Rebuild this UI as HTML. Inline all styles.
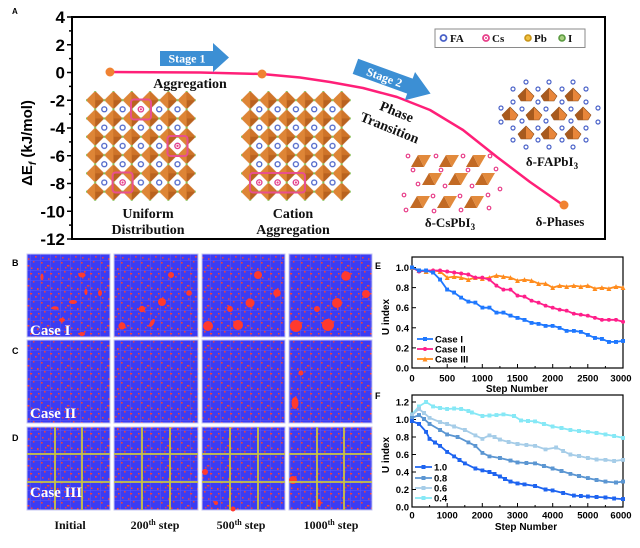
<!DOCTYPE html>
<html><head><meta charset="utf-8"><style>
html,body{margin:0;padding:0;background:#fff;}
svg{display:block;}
.ser{font-family:"Liberation Serif",serif;font-weight:bold;}
.san{font-family:"Liberation Sans",sans-serif;font-weight:bold;}
</style></head><body>
<svg width="640" height="548" viewBox="0 0 640 548" xmlns="http://www.w3.org/2000/svg">
<defs>
<pattern id="perov1" x="86" y="91" width="18.3" height="18.3" patternUnits="userSpaceOnUse">
 <polygon points="9.15,0 18.3,9.15 9.15,18.3 0,9.15" fill="#b9621f"/>
 <polygon points="9.15,0 9.15,18.3 0,9.15" fill="#de8536"/>
 <polygon points="9.15,0 18.3,9.15 9.15,9.15" fill="#cf7429"/>
 <circle cx="9.15" cy="0" r="1.1" fill="#86c45a"/><circle cx="9.15" cy="18.3" r="1.1" fill="#86c45a"/>
 <circle cx="0" cy="9.15" r="1.1" fill="#86c45a"/><circle cx="18.3" cy="9.15" r="1.1" fill="#86c45a"/>
</pattern>
<pattern id="perov2" x="241" y="91" width="18.3" height="18.3" patternUnits="userSpaceOnUse">
 <polygon points="9.15,0 18.3,9.15 9.15,18.3 0,9.15" fill="#b9621f"/>
 <polygon points="9.15,0 9.15,18.3 0,9.15" fill="#de8536"/>
 <polygon points="9.15,0 18.3,9.15 9.15,9.15" fill="#cf7429"/>
 <circle cx="9.15" cy="0" r="1.1" fill="#86c45a"/><circle cx="9.15" cy="18.3" r="1.1" fill="#86c45a"/>
 <circle cx="0" cy="9.15" r="1.1" fill="#86c45a"/><circle cx="18.3" cy="9.15" r="1.1" fill="#86c45a"/>
</pattern>
<pattern id="fa1" x="95.15" y="100.15" width="18.3" height="18.3" patternUnits="userSpaceOnUse">
 <circle cx="9.15" cy="9.15" r="2.5" fill="#fff" stroke="#4a62c8" stroke-width="1.3"/>
</pattern>
<pattern id="fa2" x="250.15" y="100.15" width="18.3" height="18.3" patternUnits="userSpaceOnUse">
 <circle cx="9.15" cy="9.15" r="2.5" fill="#fff" stroke="#4a62c8" stroke-width="1.3"/>
</pattern>
<pattern id="sp" width="20" height="20" patternUnits="userSpaceOnUse">
 <rect width="20" height="20" fill="#3b3cf3"/>
 <rect x="0" y="0" width="20" height="0.5" fill="#5c5cf4"/>
 <rect x="0" y="10" width="20" height="0.5" fill="#5c5cf4"/>
 <rect x="0" y="0" width="0.5" height="20" fill="#5c5cf4"/>
 <rect x="10" y="0" width="0.5" height="20" fill="#5c5cf4"/>
 <rect x="1" y="2" width="1.6" height="1.6" fill="#f0403a"/>
 <rect x="7" y="5" width="2.4" height="1.5" fill="#f0403a"/>
 <rect x="13" y="1" width="1.5" height="1.5" fill="#f0403a"/>
 <rect x="17" y="8" width="1.6" height="2.2" fill="#f0403a"/>
 <rect x="4" y="11" width="1.6" height="1.6" fill="#f0403a"/>
 <rect x="10" y="13" width="2.2" height="1.5" fill="#f0403a"/>
 <rect x="15" y="16" width="1.6" height="1.6" fill="#f0403a"/>
 <rect x="2" y="17" width="1.5" height="1.5" fill="#f0403a"/>
 <rect x="8" y="18.3" width="1.5" height="1.5" fill="#f0403a"/>
 <rect x="18" y="13" width="1.5" height="1.5" fill="#f0403a"/>
 <rect x="11" y="7.5" width="1.5" height="1.5" fill="#f0403a"/>
 <rect x="5" y="7" width="1.4" height="1.4" fill="#f0403a"/>
</pattern>
<marker id="mB" markerWidth="4" markerHeight="4" refX="2" refY="2" markerUnits="userSpaceOnUse"><rect width="4" height="4" fill="#1f78ff"/></marker>
<marker id="mP" markerWidth="4" markerHeight="4" refX="2" refY="2" markerUnits="userSpaceOnUse"><circle cx="2" cy="2" r="2" fill="#ff1f8a"/></marker>
<marker id="mO" markerWidth="5" markerHeight="5" refX="2.5" refY="2.5" markerUnits="userSpaceOnUse"><polygon points="2.5,0 5,5 0,5" fill="#ff8c1e"/></marker>
<marker id="m1" markerWidth="4" markerHeight="4" refX="2" refY="2" markerUnits="userSpaceOnUse"><rect width="4" height="4" fill="#1e64f0"/></marker>
<marker id="m2" markerWidth="4" markerHeight="4" refX="2" refY="2" markerUnits="userSpaceOnUse"><rect width="4" height="4" fill="#5b96d2"/></marker>
<marker id="m3" markerWidth="4" markerHeight="4" refX="2" refY="2" markerUnits="userSpaceOnUse"><rect width="4" height="4" fill="#a6cde8"/></marker>
<marker id="m4" markerWidth="4" markerHeight="4" refX="2" refY="2" markerUnits="userSpaceOnUse"><rect width="4" height="4" fill="#86e8f6"/></marker>
</defs>
<rect width="640" height="548" fill="#fff"/>

<!-- ============ PANEL A ============ -->
<text x="12" y="14" class="san" font-size="8">A</text>
<rect x="72" y="17" width="533" height="222" fill="none" stroke="#000" stroke-width="2"/>
<g stroke="#000" stroke-width="1.5">
 <line x1="67" y1="17" x2="72" y2="17"/><line x1="67" y1="44.75" x2="72" y2="44.75"/><line x1="67" y1="72.5" x2="72" y2="72.5"/>
 <line x1="67" y1="100.25" x2="72" y2="100.25"/><line x1="67" y1="128" x2="72" y2="128"/><line x1="67" y1="155.75" x2="72" y2="155.75"/>
 <line x1="67" y1="183.5" x2="72" y2="183.5"/><line x1="67" y1="211.25" x2="72" y2="211.25"/><line x1="67" y1="239" x2="72" y2="239"/>
 <line x1="69" y1="30.9" x2="72" y2="30.9"/><line x1="69" y1="58.6" x2="72" y2="58.6"/><line x1="69" y1="86.4" x2="72" y2="86.4"/>
 <line x1="69" y1="114.1" x2="72" y2="114.1"/><line x1="69" y1="141.9" x2="72" y2="141.9"/><line x1="69" y1="169.6" x2="72" y2="169.6"/>
 <line x1="69" y1="197.4" x2="72" y2="197.4"/><line x1="69" y1="225.1" x2="72" y2="225.1"/>
</g>
<g class="san" font-size="17" text-anchor="end">
 <text x="65" y="23">4</text><text x="65" y="50.75">2</text><text x="65" y="78.5">0</text>
 <text x="65" y="106.25">-2</text><text x="65" y="134">-4</text><text x="65" y="161.75">-6</text>
 <text x="65" y="189.5">-8</text><text x="65" y="217.25">-10</text><text x="65" y="245">-12</text>
</g>
<text transform="translate(32,143) rotate(-90)" class="san" font-size="15" text-anchor="middle">ΔE<tspan font-size="10" dy="4" font-style="italic">f</tspan><tspan dy="-4"> (kJ/mol)</tspan></text>

<!-- lattices -->
<rect x="86" y="91" width="109.8" height="109.8" fill="url(#perov1)"/>
<rect x="95.15" y="100.15" width="91.5" height="91.5" fill="url(#fa1)"/>
<rect x="241" y="91" width="109.8" height="109.8" fill="url(#perov2)"/>
<rect x="250.15" y="100.15" width="91.5" height="91.5" fill="url(#fa2)"/>
<g fill="#fff" stroke="#e8408a" stroke-width="1.3">
 <circle cx="140.9" cy="109.3" r="2.6"/><circle cx="177.5" cy="145.9" r="2.6"/><circle cx="122.6" cy="182.5" r="2.6"/>
 <circle cx="259.3" cy="182.5" r="2.6"/><circle cx="277.6" cy="182.5" r="2.6"/><circle cx="295.9" cy="182.5" r="2.6"/>
</g>
<g fill="#e8408a">
 <circle cx="140.9" cy="109.3" r="1.1"/><circle cx="177.5" cy="145.9" r="1.1"/><circle cx="122.6" cy="182.5" r="1.1"/>
 <circle cx="259.3" cy="182.5" r="1.1"/><circle cx="277.6" cy="182.5" r="1.1"/><circle cx="295.9" cy="182.5" r="1.1"/>
</g>
<g fill="none" stroke="#e8508e" stroke-width="2">
 <rect x="131" y="99.5" width="20" height="20" rx="3"/>
 <rect x="167.5" y="136" width="20" height="20" rx="3"/>
 <rect x="112.6" y="172.5" width="20" height="20" rx="3"/>
 <rect x="250" y="173" width="55" height="19.5" rx="3"/>
</g>

<!-- curve -->
<polyline points="110,72 200,72.5 262,74 300,77.5 330,82 363,88 397,97 430,110 463,130 497,157 530,182 563,205" fill="none" stroke="#ff1f78" stroke-width="2.5" stroke-linejoin="round"/>
<circle cx="110" cy="72" r="4.5" fill="#f08232"/>
<circle cx="262" cy="74" r="4.5" fill="#f08232"/>
<circle cx="564" cy="205" r="4.5" fill="#f08232"/>

<!-- arrows -->
<polygon points="160,51 213,51 213,43 229,57.5 213,72 213,66 160,66" fill="#3c8fd4"/>
<text x="187" y="62.5" class="ser" font-size="12" fill="#fff" text-anchor="middle">Stage 1</text>
<g transform="rotate(20 393 80)">
 <polygon points="353,72 411,72 411,65 433,80 411,95 411,88 353,88" fill="#3c8fd4"/>
 <text x="384" y="84.5" class="ser" font-size="12" fill="#fff" text-anchor="middle">Stage 2</text>
</g>

<!-- texts -->
<g class="ser" font-size="14" text-anchor="middle" fill="#111">
 <text x="190" y="88">Aggregation</text>
 <text x="148" y="218">Uniform</text>
 <text x="148" y="234">Distribution</text>
 <text x="293" y="218">Cation</text>
 <text x="293" y="234">Aggregation</text>
 <text transform="translate(395,116) rotate(22)">Phase</text>
 <text transform="translate(388,132) rotate(22)">Transition</text>
</g>
<g class="ser" font-size="13" text-anchor="middle" fill="#111">
 <text x="552" y="166">δ-FAPbI<tspan font-size="9" dy="3">3</tspan></text>
 <text x="450" y="227">δ-CsPbI<tspan font-size="9" dy="3">3</tspan></text>
 <text x="560" y="226">δ-Phases</text>
</g>

<!-- delta-CsPbI3 -->
<g>
 <g fill="#c26a24">
  <polygon points="411,167 418,155 424,167"/><polygon points="439,167 446,155 452,167"/><polygon points="466,167 473,155 479,167"/>
  <polygon points="422,185 429,173 435,185"/><polygon points="448,185 455,173 461,185"/><polygon points="475,185 482,173 488,185"/>
  <polygon points="410,208 417,196 423,208"/><polygon points="437,208 444,196 450,208"/><polygon points="464,208 471,196 477,208"/>
 </g>
 <g fill="#e28a3c">
  <polygon points="418,155 431,155 424,167"/><polygon points="446,155 459,155 452,167"/><polygon points="473,155 486,155 479,167"/>
  <polygon points="429,173 442,173 435,185"/><polygon points="455,173 468,173 461,185"/><polygon points="482,173 495,173 488,185"/>
  <polygon points="417,196 430,196 423,208"/><polygon points="444,196 457,196 450,208"/><polygon points="471,196 484,196 477,208"/>
 </g>
 <g fill="#fff" stroke="#e8408a" stroke-width="1.2">
  <circle cx="408" cy="156" r="1.8"/><circle cx="436" cy="156" r="1.8"/><circle cx="463" cy="156" r="1.8"/><circle cx="490" cy="156" r="1.8"/>
  <circle cx="413" cy="170" r="1.8"/><circle cx="441" cy="170" r="1.8"/><circle cx="468" cy="170" r="1.8"/><circle cx="496" cy="169" r="1.8"/>
  <circle cx="418" cy="184" r="1.8"/><circle cx="445" cy="186" r="1.8"/><circle cx="472" cy="186" r="1.8"/><circle cx="500" cy="189" r="1.8"/>
  <circle cx="404" cy="195" r="1.8"/><circle cx="433" cy="196" r="1.8"/><circle cx="460" cy="196" r="1.8"/><circle cx="488" cy="195" r="1.8"/>
  <circle cx="406" cy="210" r="1.8"/><circle cx="434" cy="211" r="1.8"/><circle cx="461" cy="210" r="1.8"/><circle cx="489" cy="208" r="1.8"/>
 </g>
</g>

<!-- delta-FAPbI3 -->
<g>
 <g fill="#e8863a" stroke="#8a4a18" stroke-width="0.6">
  <polygon points="526,88 534,96 531,101 521,101 518,96"/><polygon points="549,88 557,96 554,101 544,101 541,96"/><polygon points="573,88 581,96 578,101 568,101 565,96"/>
  <polygon points="510,107 518,115 515,120 505,120 502,115"/><polygon points="534,107 542,115 539,120 529,120 526,115"/><polygon points="559,107 567,115 564,120 554,120 551,115"/><polygon points="583,107 591,115 588,120 578,120 575,115"/>
  <polygon points="526,126 534,134 531,139 521,139 518,134"/><polygon points="549,126 557,134 554,139 544,139 541,134"/><polygon points="573,126 581,134 578,139 568,139 565,134"/>
 </g>
 <g fill="#a85a1e">
  <polygon points="526,88 526,101 521,101 518,96"/><polygon points="549,88 549,101 544,101 541,96"/><polygon points="573,88 573,101 568,101 565,96"/>
  <polygon points="510,107 510,120 505,120 502,115"/><polygon points="534,107 534,120 529,120 526,115"/><polygon points="559,107 559,120 554,120 551,115"/><polygon points="583,107 583,120 578,120 575,115"/>
  <polygon points="526,126 526,139 521,139 518,134"/><polygon points="549,126 549,139 544,139 541,134"/><polygon points="573,126 573,139 568,139 565,134"/>
 </g>
 <g fill="#fff" stroke="#4a62c8" stroke-width="1.2">
  <circle cx="526" cy="82" r="2"/><circle cx="549" cy="82" r="2"/><circle cx="573" cy="82" r="2"/>
  <circle cx="513" cy="89" r="2"/><circle cx="538" cy="89" r="2"/><circle cx="562" cy="89" r="2"/><circle cx="586" cy="89" r="2"/>
  <circle cx="513" cy="102" r="2"/><circle cx="538" cy="102" r="2"/><circle cx="562" cy="102" r="2"/><circle cx="586" cy="102" r="2"/>
  <circle cx="501" cy="108" r="2"/><circle cx="598" cy="108" r="2"/>
  <circle cx="501" cy="122" r="2"/><circle cx="598" cy="122" r="2"/>
  <circle cx="522" cy="109" r="2"/><circle cx="546" cy="109" r="2"/><circle cx="571" cy="109" r="2"/>
  <circle cx="522" cy="121" r="2"/><circle cx="546" cy="121" r="2"/><circle cx="571" cy="121" r="2"/>
  <circle cx="513" cy="128" r="2"/><circle cx="538" cy="128" r="2"/><circle cx="562" cy="128" r="2"/><circle cx="586" cy="128" r="2"/>
  <circle cx="513" cy="140" r="2"/><circle cx="538" cy="140" r="2"/><circle cx="562" cy="140" r="2"/><circle cx="586" cy="140" r="2"/>
  <circle cx="526" cy="147" r="2"/><circle cx="549" cy="147" r="2"/><circle cx="573" cy="147" r="2"/>
 </g>
</g>

<!-- legend -->
<rect x="435" y="29" width="150" height="18.5" fill="#fff" stroke="#8a8a8a" stroke-width="1"/>
<circle cx="443.5" cy="38" r="3" fill="#fff" stroke="#4a62c8" stroke-width="1.8"/>
<circle cx="486" cy="38" r="3" fill="#fff" stroke="#e8408a" stroke-width="1.8"/><circle cx="486" cy="38" r="1" fill="#e8408a"/>
<circle cx="528" cy="38" r="3" fill="#f0c040" stroke="#c89418" stroke-width="1.6"/>
<circle cx="562" cy="38" r="3" fill="#a8d080" stroke="#5a9a40" stroke-width="1.6"/>
<g class="ser" font-size="11" fill="#111">
 <text x="450" y="42">FA</text><text x="492" y="42">Cs</text><text x="534" y="42">Pb</text><text x="568" y="42">I</text>
</g>

<!-- ============ PANELS B-D ============ -->
<g class="san" font-size="9">
 <text x="12" y="266">B</text><text x="12" y="354">C</text><text x="12" y="441">D</text>
</g>
<g stroke="#c4c4f2" stroke-width="1">
 <rect x="27" y="254" width="83" height="83" fill="url(#sp)"/>
 <rect x="114" y="254" width="84" height="83" fill="url(#sp)"/>
 <rect x="202" y="254" width="83" height="83" fill="url(#sp)"/>
 <rect x="289" y="254" width="83" height="83" fill="url(#sp)"/>
 <rect x="27" y="340" width="83" height="83" fill="url(#sp)"/>
 <rect x="114" y="340" width="84" height="83" fill="url(#sp)"/>
 <rect x="202" y="340" width="83" height="83" fill="url(#sp)"/>
 <rect x="289" y="340" width="83" height="83" fill="url(#sp)"/>
 <rect x="27" y="427" width="83" height="83" fill="url(#sp)"/>
 <rect x="114" y="427" width="84" height="83" fill="url(#sp)"/>
 <rect x="202" y="427" width="83" height="83" fill="url(#sp)"/>
 <rect x="289" y="427" width="83" height="83" fill="url(#sp)"/>
</g>
<!-- blobs -->
<g fill="#ff3a2e">
 <ellipse cx="82" cy="275" rx="3.5" ry="2.5"/><ellipse cx="73" cy="302" rx="4" ry="2"/><ellipse cx="55" cy="308" rx="3.5" ry="1.8"/>
 <ellipse cx="42" cy="277" rx="1.5" ry="3.5"/><ellipse cx="100" cy="293" rx="2" ry="3"/><ellipse cx="86" cy="292" rx="1.5" ry="3"/><ellipse cx="62" cy="320" rx="3" ry="2"/><ellipse cx="82" cy="334" rx="3" ry="2"/>
 <circle cx="171" cy="275" r="3"/><circle cx="162" cy="302" r="4"/><circle cx="142" cy="309" r="3.2"/><circle cx="189" cy="293" r="2.8"/><circle cx="122" cy="326" r="3.6"/><ellipse cx="152" cy="323" rx="2" ry="4.5" transform="rotate(30 152 323)"/>
 <circle cx="258" cy="275" r="4"/><circle cx="250" cy="303" r="4.5"/><circle cx="277" cy="293" r="3.8"/><circle cx="230" cy="309" r="3"/><circle cx="208" cy="326" r="5"/><circle cx="238" cy="325" r="5"/>
 <circle cx="346" cy="276" r="4.8"/><circle cx="337" cy="303" r="5"/><circle cx="366" cy="294" r="4"/><circle cx="317" cy="309" r="3"/><circle cx="296" cy="326" r="6"/><circle cx="328" cy="325" r="6"/>
 <circle cx="301" cy="373" r="2.5"/><ellipse cx="295" cy="403" rx="3.5" ry="6"/>
 <circle cx="205" cy="472" r="3"/><circle cx="216" cy="503" r="2"/><circle cx="233" cy="509" r="2.5"/>
 <circle cx="293" cy="480" r="4"/><ellipse cx="319" cy="503" rx="2" ry="4"/>
</g>
<!-- yellow grids -->
<g stroke="#c8c444" stroke-width="1.8">
 <line x1="55" y1="427" x2="55" y2="510"/><line x1="82" y1="427" x2="82" y2="510"/>
 <line x1="27" y1="454" x2="110" y2="454"/><line x1="27" y1="482" x2="110" y2="482"/>
 <line x1="142" y1="427" x2="142" y2="510"/><line x1="170" y1="427" x2="170" y2="510"/>
 <line x1="114" y1="454" x2="198" y2="454"/><line x1="114" y1="482" x2="198" y2="482"/>
 <line x1="230" y1="427" x2="230" y2="510"/><line x1="258" y1="427" x2="258" y2="510"/>
 <line x1="202" y1="454" x2="285" y2="454"/><line x1="202" y1="482" x2="285" y2="482"/>
 <line x1="317" y1="427" x2="317" y2="510"/><line x1="344" y1="427" x2="344" y2="510"/>
 <line x1="289" y1="454" x2="372" y2="454"/><line x1="289" y1="482" x2="372" y2="482"/>
</g>
<g class="ser" font-size="15" fill="#fff">
 <text x="30" y="335">Case I</text><text x="30" y="418">Case II</text><text x="30" y="497">Case III</text>
</g>
<g class="ser" font-size="12" text-anchor="middle" fill="#111">
 <text x="70" y="529">Initial</text>
 <text x="155" y="529">200<tspan font-size="8" dy="-4">th</tspan><tspan dy="4"> step</tspan></text>
 <text x="241" y="529">500<tspan font-size="8" dy="-4">th</tspan><tspan dy="4"> step</tspan></text>
 <text x="331" y="529">1000<tspan font-size="8" dy="-4">th</tspan><tspan dy="4"> step</tspan></text>
</g>

<!-- ============ PANEL E ============ -->
<text x="375" y="269" class="san" font-size="9">E</text>
<text transform="translate(389,317) rotate(-90)" class="san" font-size="10" text-anchor="middle">U index</text>
<rect x="412" y="257" width="211" height="111" fill="none" stroke="#000" stroke-width="1.2"/>
<g stroke="#000" stroke-width="1">
 <line x1="447.2" y1="368" x2="447.2" y2="364"/><line x1="482.3" y1="368" x2="482.3" y2="364"/><line x1="517.5" y1="368" x2="517.5" y2="364"/><line x1="552.7" y1="368" x2="552.7" y2="364"/><line x1="587.8" y1="368" x2="587.8" y2="364"/>
 <line x1="429.6" y1="368" x2="429.6" y2="366"/><line x1="464.8" y1="368" x2="464.8" y2="366"/><line x1="499.9" y1="368" x2="499.9" y2="366"/><line x1="535.1" y1="368" x2="535.1" y2="366"/><line x1="570.3" y1="368" x2="570.3" y2="366"/><line x1="605.4" y1="368" x2="605.4" y2="366"/>
 <line x1="412" y1="347.9" x2="416" y2="347.9"/><line x1="412" y1="327.8" x2="416" y2="327.8"/><line x1="412" y1="307.7" x2="416" y2="307.7"/><line x1="412" y1="287.6" x2="416" y2="287.6"/><line x1="412" y1="267.5" x2="416" y2="267.5"/>
</g>
<g class="san" font-size="9.5" text-anchor="end">
 <text x="409" y="371.5">0.0</text><text x="409" y="351.4">0.2</text><text x="409" y="331.3">0.4</text><text x="409" y="311.2">0.6</text><text x="409" y="291.1">0.8</text><text x="409" y="271">1.0</text>
</g>
<g class="san" font-size="9.5" text-anchor="middle">
 <text x="412" y="381.5">0</text><text x="447.2" y="381.5">500</text><text x="482.3" y="381.5">1000</text><text x="517.5" y="381.5">1500</text><text x="552.7" y="381.5">2000</text><text x="587.8" y="381.5">2500</text><text x="621" y="381.5">3000</text>
</g>
<text x="517" y="392" class="san" font-size="10" text-anchor="middle">Step Number</text>
<polyline fill="none" stroke="#ff8c1e" stroke-width="1.8" marker-start="url(#mO)" marker-mid="url(#mO)" marker-end="url(#mO)" points="412,267.5 419,270.5 426.1,271.5 433.1,270.5 440.1,271.5 447.2,277.6 454.2,276.6 461.2,277.6 468.3,279.6 475.3,277.6 482.3,278.6 489.4,277.6 496.4,275.5 503.4,276.6 510.5,277.6 517.5,280.6 524.5,279.6 531.6,280.6 538.6,283.6 545.6,283.6 552.7,287.6 559.7,285.6 566.7,286.6 573.8,285.6 580.8,286.6 587.8,285.6 594.9,288.6 601.9,287.6 608.9,288.6 616,286.6 623,287.6"/>
<polyline fill="none" stroke="#ff1f8a" stroke-width="1.8" marker-start="url(#mP)" marker-mid="url(#mP)" marker-end="url(#mP)" points="412,267.5 419,271.5 426.1,270.5 433.1,270.5 440.1,270.5 447.2,271.5 454.2,272.5 461.2,273.5 468.3,274.5 475.3,277.6 482.3,277.6 489.4,279.6 496.4,285.6 503.4,289.6 510.5,289.6 517.5,295.6 524.5,296.6 531.6,300.7 538.6,302.7 545.6,305.7 552.7,307.7 559.7,309.7 566.7,310.7 573.8,313.7 580.8,314.7 587.8,315.7 594.9,317.8 601.9,319.8 608.9,319.8 616,319.8 623,321.8"/>
<polyline fill="none" stroke="#1f78ff" stroke-width="1.8" marker-start="url(#mB)" marker-mid="url(#mB)" marker-end="url(#mB)" points="412,267.5 419,270.5 426.1,270.5 433.1,272.5 440.1,279.6 447.2,289.6 454.2,292.6 461.2,297.7 468.3,301.7 475.3,302.7 482.3,307.7 489.4,307.7 496.4,312.7 503.4,312.7 510.5,315.7 517.5,317.8 524.5,319.8 531.6,322.8 538.6,323.8 545.6,325.8 552.7,325.8 559.7,327.8 566.7,330.8 573.8,330.8 580.8,331.8 587.8,334.8 594.9,337.9 601.9,338.9 608.9,341.9 616,341.9 623,340.9"/>
<g stroke-width="1.8">
 <line x1="417" y1="339" x2="433" y2="339" stroke="#1f78ff"/><rect x="423" y="337" width="4" height="4" fill="#1f78ff"/>
 <line x1="417" y1="349" x2="433" y2="349" stroke="#ff1f8a"/><circle cx="425" cy="349" r="2" fill="#ff1f8a"/>
 <line x1="417" y1="359" x2="433" y2="359" stroke="#ff8c1e"/><polygon points="425,356.5 427.5,361.5 422.5,361.5" fill="#ff8c1e"/>
</g>
<g class="san" font-size="9.5">
 <text x="435" y="342.5">Case I</text><text x="435" y="352.5">Case II</text><text x="435" y="362.5">Case III</text>
</g>

<!-- ============ PANEL F ============ -->
<text x="375" y="399" class="san" font-size="9">F</text>
<text transform="translate(389,455) rotate(-90)" class="san" font-size="10" text-anchor="middle">U index</text>
<rect x="412" y="395" width="211" height="112" fill="none" stroke="#000" stroke-width="1.2"/>
<g stroke="#000" stroke-width="1">
 <line x1="447.2" y1="507" x2="447.2" y2="503"/><line x1="482.3" y1="507" x2="482.3" y2="503"/><line x1="517.5" y1="507" x2="517.5" y2="503"/><line x1="552.7" y1="507" x2="552.7" y2="503"/><line x1="587.8" y1="507" x2="587.8" y2="503"/>
 <line x1="429.6" y1="507" x2="429.6" y2="505"/><line x1="464.8" y1="507" x2="464.8" y2="505"/><line x1="499.9" y1="507" x2="499.9" y2="505"/><line x1="535.1" y1="507" x2="535.1" y2="505"/><line x1="570.3" y1="507" x2="570.3" y2="505"/><line x1="605.4" y1="507" x2="605.4" y2="505"/>
 <line x1="412" y1="489.5" x2="416" y2="489.5"/><line x1="412" y1="472" x2="416" y2="472"/><line x1="412" y1="454.5" x2="416" y2="454.5"/><line x1="412" y1="437" x2="416" y2="437"/><line x1="412" y1="419.5" x2="416" y2="419.5"/><line x1="412" y1="402" x2="416" y2="402"/>
</g>
<g class="san" font-size="9.5" text-anchor="end">
 <text x="409" y="510.5">0.0</text><text x="409" y="493">0.2</text><text x="409" y="475.5">0.4</text><text x="409" y="458">0.6</text><text x="409" y="440.5">0.8</text><text x="409" y="423">1.0</text><text x="409" y="405.5">1.2</text>
</g>
<g class="san" font-size="9.5" text-anchor="middle">
 <text x="412" y="518.5">0</text><text x="447.2" y="518.5">1000</text><text x="482.3" y="518.5">2000</text><text x="517.5" y="518.5">3000</text><text x="552.7" y="518.5">4000</text><text x="587.8" y="518.5">5000</text><text x="621" y="518.5">6000</text>
</g>
<text x="526" y="530" class="san" font-size="10" text-anchor="middle">Step Number</text>
<polyline fill="none" stroke="#86e8f6" stroke-width="1.8" marker-start="url(#m4)" marker-mid="url(#m4)" marker-end="url(#m4)" points="412,414.3 419,406.4 426.1,402 433.1,406.4 440.1,408 447.2,409 454.2,408.5 461.2,409 468.3,411 471.8,412.5 482.3,416 489.4,415.5 496.4,415.1 503.4,414.3 514,416 521,420.4 528,421 535.1,421.3 543.9,424 552.7,426.5 561.5,428 570.3,430 579,431 587.8,431.8 596.6,433 605.4,434.4 614.2,436 623,437.9"/>
<polyline fill="none" stroke="#a6cde8" stroke-width="1.8" marker-start="url(#m3)" marker-mid="url(#m3)" marker-end="url(#m3)" points="412,415.1 419,409 424,413 429.6,417.8 440.1,422.1 447.2,424 454.2,426.5 464.8,430 475.3,435.3 482.3,438.8 489.4,435.3 494.6,437 499.9,439.6 508.7,442 517.5,444 526.3,445 535.1,445.8 545.6,449.3 556.2,447.5 563.2,451 570.3,454.5 579,456 587.8,458 596.6,459.5 605.4,459.8 614.2,461 623,459.8"/>
<polyline fill="none" stroke="#5b96d2" stroke-width="1.8" marker-start="url(#m2)" marker-mid="url(#m2)" marker-end="url(#m2)" points="412,417.8 419,415.1 424,419 429.6,423.9 440.1,430 447.2,434.4 457.7,437 468.3,442.3 475.3,445.8 482.3,452.8 489.4,456.3 499.9,458 510.5,460.6 517.5,462.4 526.3,463 535.1,463.3 543.9,466 552.7,468.5 561.5,471 570.3,473.8 579,476 587.8,478.1 596.6,480 605.4,481.6 616,482.5 623,481.6"/>
<polyline fill="none" stroke="#1e64f0" stroke-width="1.8" marker-start="url(#m1)" marker-mid="url(#m1)" marker-end="url(#m1)" points="412,421.2 419,423.9 426.1,431.8 429.6,438.8 435,442.5 440.1,445.8 447.2,451.9 454.2,456.3 459.5,460 464.8,463.3 475.3,468.5 482.3,470.3 489.4,472 494.6,474 499.9,476.4 505,479 510.5,481.6 517.5,483.4 524.5,484.3 535.1,486 545.6,489.5 552.7,490.4 563.2,493 573.8,495.6 580.8,496 587.8,496.5 596.6,497 605.4,497.4 614.2,498.5 623,499.1"/>
<g stroke-width="1.8">
 <line x1="415" y1="467" x2="432" y2="467" stroke="#1e64f0"/><rect x="421.5" y="465" width="4" height="4" fill="#1e64f0"/>
 <line x1="415" y1="478" x2="432" y2="478" stroke="#5b96d2"/><rect x="421.5" y="476" width="4" height="4" fill="#5b96d2"/>
 <line x1="415" y1="488" x2="432" y2="488" stroke="#a6cde8"/><rect x="421.5" y="486" width="4" height="4" fill="#a6cde8"/>
 <line x1="415" y1="498" x2="432" y2="498" stroke="#86e8f6"/><rect x="421.5" y="496" width="4" height="4" fill="#86e8f6"/>
</g>
<g class="san" font-size="9.5">
 <text x="434" y="470.5">1.0</text><text x="434" y="481.5">0.8</text><text x="434" y="491.5">0.6</text><text x="434" y="501.5">0.4</text>
</g>
</svg>
</body></html>
